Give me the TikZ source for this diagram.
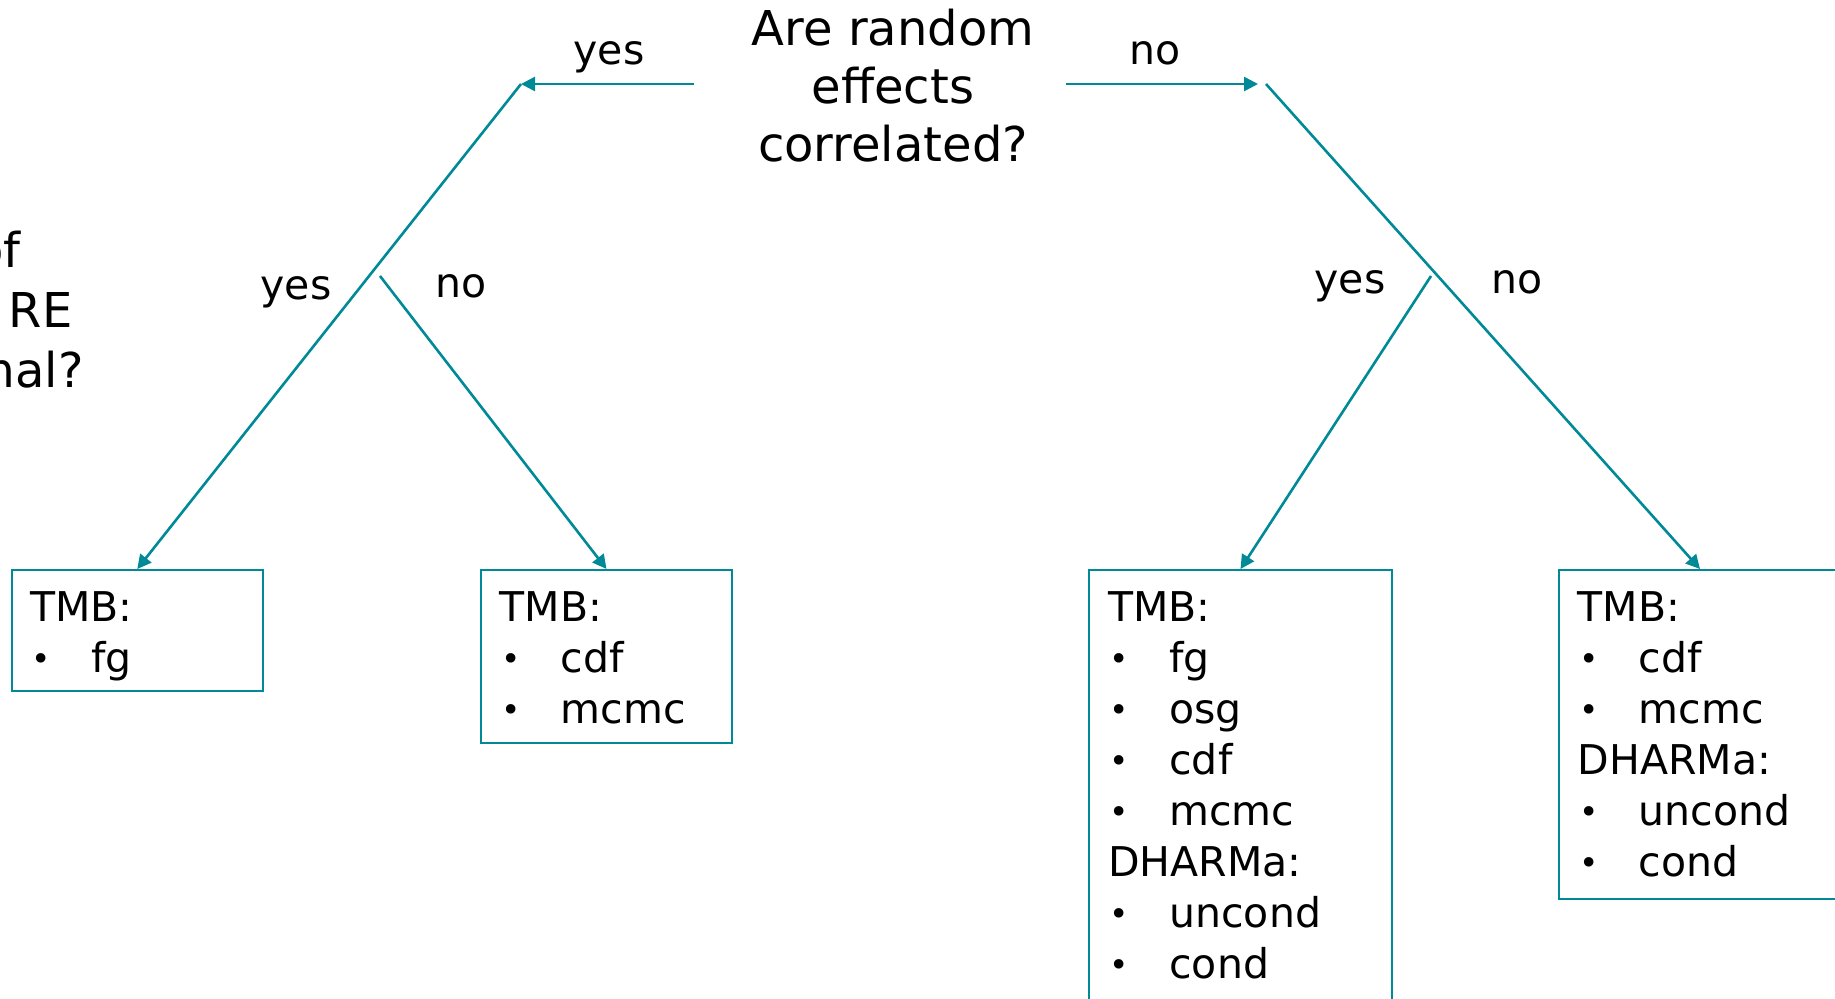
\documentclass[tikz,border=0pt]{standalone}
\usepackage{fontspec}
\setmainfont{DejaVu Sans}
\usetikzlibrary{arrows.meta}
\definecolor{tealc}{RGB}{0,137,150}
\newcommand\itm[1]{\makebox[30.5pt][l]{\hspace{0.6pt}\raisebox{0.6pt}{\scalebox{0.8}{\textbullet}}}#1}
\begin{document}
\begin{tikzpicture}[x=0.5pt,y=-0.5pt,
  conn/.style={draw=tealc,line width=1.3pt,-{Triangle[length=7pt,width=7pt]}},
  box/.style={draw=tealc,line width=1pt,anchor=north west,inner sep=0pt},
  lbl/.style={font=\fontsize{20.5pt}{25.5pt}\selectfont,anchor=base,inner sep=0pt},
  boxtext/.style={font=\fontsize{20.5pt}{25.5pt}\selectfont,anchor=base west,inner sep=0pt},
  big/.style={font=\fontsize{24pt}{29pt}\selectfont,inner sep=0pt}]
\useasboundingbox (0,0) rectangle (1835,998);
\clip (0,0) rectangle (1835,998);

% question
\node[big,anchor=base] (q) at (893,45) {\parbox[t]{300pt}{\centering Are random\\effects\\correlated?}};

% partly visible question on the left
\node[big,anchor=base east] (l1) at (21,267) {Distribution of};
\node[big,anchor=base east] (l2) at (73,327) {the RE};
\node[big,anchor=base east] (l3) at (84,387) {normal?};

% boxes
\node[box,minimum width=125.75pt,minimum height=60.5pt] (b1) at (10.5,569) {};
\node[box,minimum width=125.5pt,minimum height=86.5pt] (b2) at (480,569) {};
\node[box,minimum width=151.5pt,minimum height=250pt] (b3) at (1088,569) {};
\node[box,minimum width=141pt,minimum height=164.5pt] (b4) at (1558,569) {};

\node[boxtext] (t1) at (30,621) {\parbox[t]{120pt}{TMB:\\\itm{fg}}};
\node[boxtext] (t2) at (499.5,621) {\parbox[t]{120pt}{TMB:\\\itm{cdf}\\\itm{mcmc}}};
\node[boxtext] (t3) at (1108,621) {\parbox[t]{140pt}{TMB:\\\itm{fg}\\\itm{osg}\\\itm{cdf}\\\itm{mcmc}\\DHARMa:\\\itm{uncond}\\\itm{cond}}};
\node[boxtext] (t4) at (1577.5,621) {\parbox[t]{140pt}{TMB:\\\itm{cdf}\\\itm{mcmc}\\DHARMa:\\\itm{uncond}\\\itm{cond}}};

% branch points
\coordinate (qL) at (694,84);
\coordinate (A) at (521,84);
\coordinate (qR) at (1066,84);
\coordinate (B) at (1258,84);
\coordinate (Bs) at (1266,84);
\coordinate (C) at (380,276);
\coordinate (D) at (1431,276);

\draw[conn] (qL) -- (A);
\draw[conn] (A) -- (b1.north);
\draw[conn] (C) -- (b2.north);
\draw[conn] (qR) -- (B);
\draw[conn] (Bs) -- (b4.north);
\draw[conn] (D) -- (b3.north);

% labels
\node[lbl] (y0) at (609,64) {yes};
\node[lbl] (n0) at (1155,64) {no};
\node[lbl] (y1) at (296,299) {yes};
\node[lbl] (n1) at (461,297) {no};
\node[lbl] (y2) at (1350,293) {yes};
\node[lbl] (n2) at (1517,293) {no};
\end{tikzpicture}
\end{document}
